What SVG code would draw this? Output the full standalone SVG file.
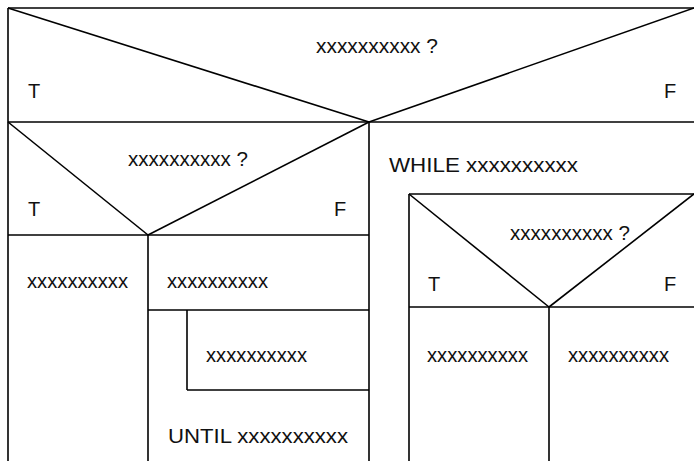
<svg xmlns="http://www.w3.org/2000/svg" width="694" height="461" viewBox="0 0 694 461">
<style>
.ln{stroke:#000;stroke-width:1.6;fill:none}
text{font-family:"Liberation Sans",Arial,sans-serif;font-size:20px;fill:#111}
</style>
<rect x="0" y="0" width="694" height="461" fill="#fff"/>
<g id="connectors">
<line class="ln" x1="8" y1="8" x2="8" y2="461"/>
<line class="ln" x1="8" y1="8" x2="700" y2="8"/>
</g>
<g id="if1">
<line class="ln" x1="8" y1="8" x2="369" y2="122"/>
<line class="ln" x1="369" y1="122" x2="694" y2="8"/>
<line class="ln" x1="8" y1="122" x2="700" y2="122"/>
<text x="316" y="53" textLength="122" lengthAdjust="spacingAndGlyphs">xxxxxxxxxx ?</text>
<text x="28" y="98">T</text>
<text x="664" y="98">F</text>
</g>
<g id="if2">
<line class="ln" x1="8" y1="122" x2="148" y2="235"/>
<line class="ln" x1="148" y1="235" x2="369" y2="122"/>
<line class="ln" x1="8" y1="235" x2="369" y2="235"/>
<line class="ln" x1="369" y1="122" x2="369" y2="461"/>
<text x="128" y="166" textLength="120" lengthAdjust="spacingAndGlyphs">xxxxxxxxxx ?</text>
<text x="28" y="216">T</text>
<text x="334" y="216">F</text>
</g>
<g id="stmt1">
<line class="ln" x1="148" y1="235" x2="148" y2="461"/>
<text x="27" y="288" textLength="101" lengthAdjust="spacingAndGlyphs">xxxxxxxxxx</text>
</g>
<g id="stmt2">
<line class="ln" x1="148" y1="310" x2="369" y2="310"/>
<text x="167" y="288" textLength="101" lengthAdjust="spacingAndGlyphs">xxxxxxxxxx</text>
</g>
<g id="repeat">
<line class="ln" x1="187" y1="310" x2="187" y2="390"/>
<line class="ln" x1="187" y1="390" x2="369" y2="390"/>
<text x="206" y="362" textLength="101" lengthAdjust="spacingAndGlyphs">xxxxxxxxxx</text>
<text x="168" y="443" textLength="180" lengthAdjust="spacingAndGlyphs">UNTIL xxxxxxxxxx</text>
</g>
<g id="while">
<text x="389" y="172" textLength="189" lengthAdjust="spacingAndGlyphs">WHILE xxxxxxxxxx</text>
</g>
<g id="if3">
<line class="ln" x1="409" y1="194" x2="700" y2="194"/>
<line class="ln" x1="409" y1="194" x2="409" y2="461"/>
<line class="ln" x1="409" y1="194" x2="549" y2="307"/>
<line class="ln" x1="549" y1="307" x2="694" y2="194"/>
<line class="ln" x1="409" y1="307" x2="700" y2="307"/>
<text x="510" y="240" textLength="120" lengthAdjust="spacingAndGlyphs">xxxxxxxxxx ?</text>
<text x="428" y="291">T</text>
<text x="664" y="291">F</text>
</g>
<g id="stmt3">
<line class="ln" x1="549" y1="307" x2="549" y2="461"/>
<text x="427" y="362" textLength="101" lengthAdjust="spacingAndGlyphs">xxxxxxxxxx</text>
</g>
<g id="stmt4">
<text x="568" y="362" textLength="101" lengthAdjust="spacingAndGlyphs">xxxxxxxxxx</text>
</g>
</svg>
